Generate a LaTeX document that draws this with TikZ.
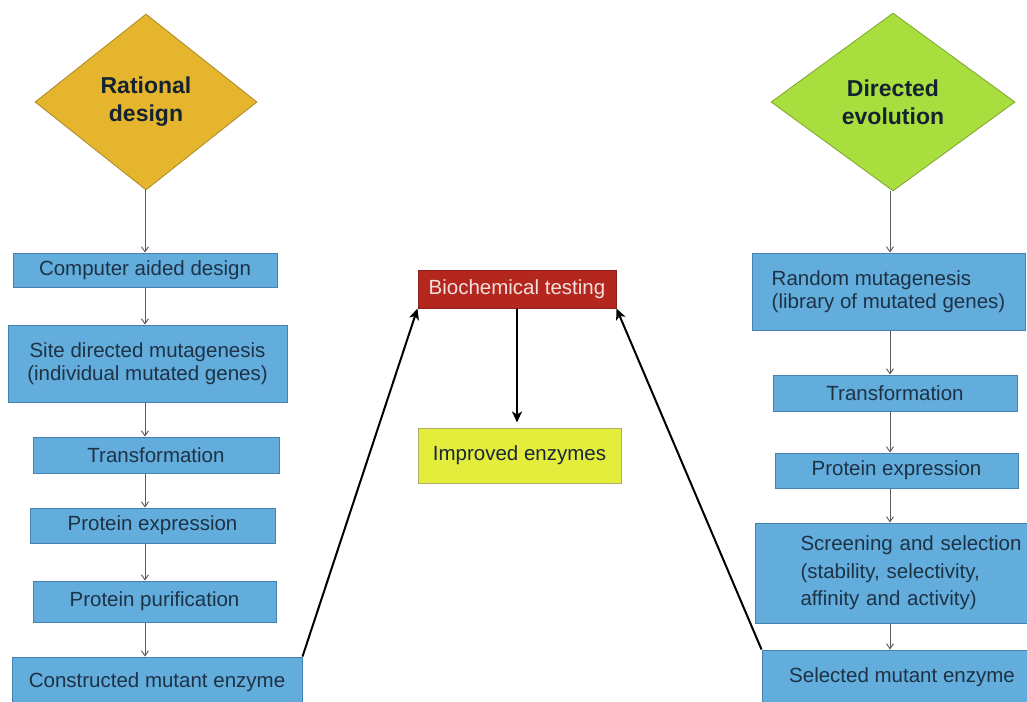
\documentclass[tikz,border=0pt]{standalone}
\usepackage{fontspec}
\setmainfont{Liberation Sans}
\usetikzlibrary{arrows.meta,shapes.geometric}
\definecolor{Ink}{HTML}{1E3246}
\definecolor{StepInk}{HTML}{555B60}
\definecolor{StepColor}{HTML}{62ADDC}
\definecolor{StepLine}{HTML}{4682B0}
\definecolor{RationalColor}{HTML}{E6B52E}
\definecolor{EvolutionColor}{HTML}{A8DE3E}
\definecolor{TestColor}{HTML}{B3271F}
\definecolor{ResultColor}{HTML}{E4EC3C}
\tikzset{
  step flow/.style={-{Straight Barb[length=5pt,width=7pt]}, draw=StepInk, line width=0.9pt},
  main flow/.style={-{Stealth[length=11pt,width=10pt,inset=3pt]}, draw=black, line width=2pt},
  strategy/.style={diamond, inner sep=0pt, line width=0.8pt, align=center, text=Ink!70!black,
    font=\bfseries\fontsize{23}{28}\selectfont},
  step box/.style={rectangle, draw=StepLine, fill=StepColor, line width=1pt, align=center,
    text=Ink, font=\fontsize{20.5}{23.5}\selectfont, inner sep=0pt},
  test box/.style={rectangle, draw=TestColor!80!black, fill=TestColor, line width=1pt,
    text=white!85!TestColor, font=\fontsize{20.5}{23.5}\selectfont, inner sep=0pt},
  result box/.style={rectangle, draw=ResultColor!60!black!70, fill=ResultColor, line width=1pt,
    text=Ink!80!black, font=\fontsize{20.5}{23.5}\selectfont, inner sep=0pt},
}

\begin{document}
\begin{tikzpicture}[x=1pt, y=-1pt]
  \useasboundingbox (0,0) rectangle (1027,701);
  \fill[white] (0,0) rectangle (1027,701);

  % Vertical spines that carry the thin step arrows.
  \coordinate (lspine) at (145,0);
  \coordinate (rspine) at (890,0);

  % The two engineering strategies.
  \node[strategy, fill=RationalColor, draw=RationalColor!75!black,
    minimum width=222pt, minimum height=176pt] (rational) at (146,102) {Rational\\design};
  \node[strategy, fill=EvolutionColor, draw=EvolutionColor!75!black,
    minimum width=244pt, minimum height=178pt] (evolution) at (893,102) {Directed\\evolution};

  % Rational design steps.
  \node[step box, minimum width=264pt, minimum height=34pt] (lcad) at (145,270)
    {Computer aided design};
  \node[step box, minimum width=279pt, minimum height=77pt] (lsite) at (147.5,363.5)
    {Site directed mutagenesis\\(individual mutated genes)};
  \node[step box, minimum width=246pt, minimum height=36pt] (ltrans) at (156,455)
    {Transformation};
  \node[step box, minimum width=245pt, minimum height=35pt] (lexpr) at (152.5,525.5)
    {Protein expression};
  \node[step box, minimum width=243pt, minimum height=41pt] (lpurif) at (154.5,601.5)
    {Protein purification};
  \node[step box, minimum width=290pt, minimum height=50pt] (lmutant) at (157,682)
    {Constructed mutant enzyme};

  % Directed evolution steps.
  \node[step box, align=left, minimum width=273pt, minimum height=77pt] (rrandom) at (888.5,291.5)
    {Random mutagenesis\\(library of mutated genes)};
  \node[step box, minimum width=244pt, minimum height=36pt] (rtrans) at (895,393)
    {Transformation};
  \node[step box, minimum width=243pt, minimum height=35pt] (rexpr) at (896.5,470.5)
    {Protein expression};
  \node[step box, anchor=west, align=left, text width=232pt, inner xsep=45pt,
    minimum height=100pt, font=\fontsize{20.5}{27.5}\selectfont] (rscreen) at (755,573)
    {Screening and selection\\(stability, selectivity,\\affinity and activity)};
  \node[step box, minimum width=280pt, minimum height=54pt] (rselect) at (902,677)
    {Selected mutant enzyme};

  % Shared testing and outcome.
  \node[test box, minimum width=198pt, minimum height=38pt] (test) at (517,289)
    {Biochemical testing};
  \node[result box, minimum width=203pt, minimum height=55pt] (improved) at (519.5,455.5)
    {Improved enzymes};

  % Step-to-step flow.
  \draw[step flow] (rational.south -| lspine) -- (lcad.north -| lspine);
  \draw[step flow] (lcad.south -| lspine) -- (lsite.north -| lspine);
  \draw[step flow] (lsite.south -| lspine) -- (ltrans.north -| lspine);
  \draw[step flow] (ltrans.south -| lspine) -- (lexpr.north -| lspine);
  \draw[step flow] (lexpr.south -| lspine) -- (lpurif.north -| lspine);
  \draw[step flow] (lpurif.south -| lspine) -- (lmutant.north -| lspine);
  \draw[step flow] (evolution.south -| rspine) -- (rrandom.north -| rspine);
  \draw[step flow] (rrandom.south -| rspine) -- (rtrans.north -| rspine);
  \draw[step flow] (rtrans.south -| rspine) -- (rexpr.north -| rspine);
  \draw[step flow] (rexpr.south -| rspine) -- (rscreen.north -| rspine);
  \draw[step flow] (rscreen.south -| rspine) -- (rselect.north -| rspine);

  % Mutants go to testing.
  \draw[main flow] (lmutant.north east) -- (test.south west);
  \draw[main flow] (rselect.north west) -- (test.south east);
  \draw[main flow, shorten >=5pt] (test.south) -- (test.south |- improved.north);
\end{tikzpicture}
\end{document}
